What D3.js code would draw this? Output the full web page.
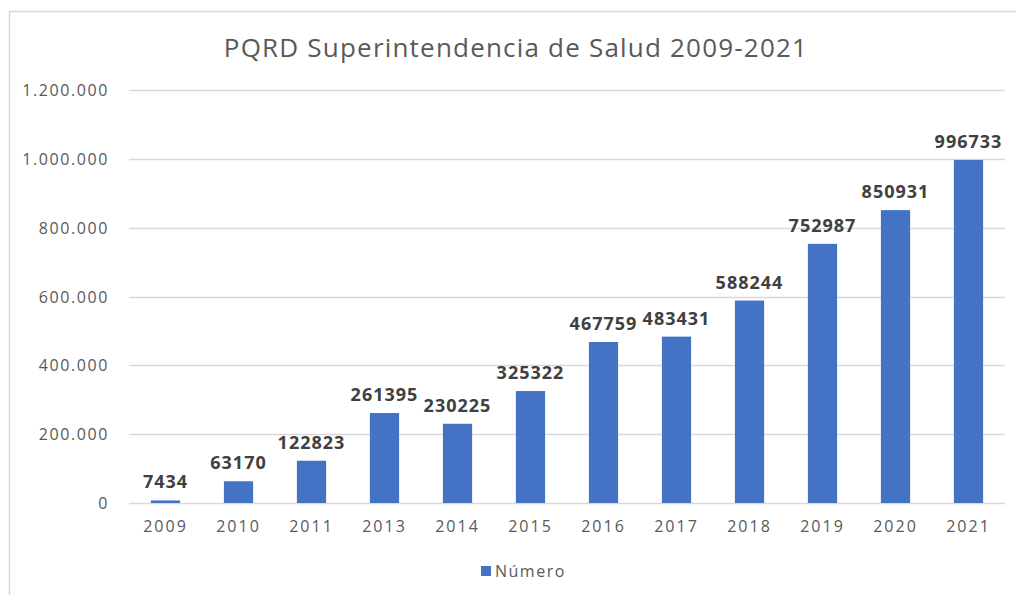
<!DOCTYPE html>
<html>
<head>
<meta charset="utf-8">
<script src="https://cdn.jsdelivr.net/npm/d3@7"></script>
<style>
	body { margin: 0; background: #fff; }
	text { font-family: "Open Sans", "Noto Sans", sans-serif; }
</style>
</head>
<body>
<script>
/* PQRD bar chart, Excel look */
var years = ["2009", "2010", "2011", "2013", "2014", "2015", "2016", "2017", "2018", "2019", "2020", "2021"];
var numero = [7434, 63170, 122823, 261395, 230225, 325322, 467759, 483431, 588244, 752987, 850931, 996733];
var yTicks = [0, 200000, 400000, 600000, 800000, 1000000, 1200000];
var title = "PQRD Superintendencia de Salud 2009-2021";
var seriesName = "Número";

var W = 1016, H = 595;
var margin = {left: 129, right: 11, top: 90, bottom: 92};
var blue = "#4472C4", grey = "#595959";

var svg = d3.select('body').append('svg').attr('width', W).attr('height', H);

// chart frame
svg.append('rect')
	.attr('x', 9.5).attr('y', 11.5)
	.attr('width', W + 10).attr('height', H + 10)
	.style('fill', 'none').style('stroke', '#d9d9d9').style('stroke-width', 1.5);

var x = d3.scaleBand().domain(years).range([margin.left, W - margin.right]).paddingInner(0.6).paddingOuter(0.3);
var y = d3.scaleLinear().domain([0, 1200000]).range([H - margin.bottom, margin.top]);

var fmt = function(v){ return d3.format(",")(v).replace(/,/g, '.'); };

// gridlines
svg.append('g').selectAll('line')
	.data(yTicks)
	.enter().append('line')
	.attr('x1', margin.left).attr('x2', W - margin.right)
	.attr('y1', function(d){ return Math.round(y(d)) + 0.5; })
	.attr('y2', function(d){ return Math.round(y(d)) + 0.5; })
	.style('stroke', '#d9d9d9').style('stroke-width', 1.3);

// y axis labels
var yAxis = svg.append('g')
	.attr('transform', 'translate(' + (margin.left - 20) + ',0)')
	.call(d3.axisLeft(y).tickValues(yTicks).tickFormat(function(d){ return d === 0 ? "0" : fmt(d); }).tickSize(0).tickPadding(0));
yAxis.select('.domain').remove();
yAxis.selectAll('text').style('font-size', '16px').style('letter-spacing', '1.6px').style('fill', grey).attr('dy', '0.35em');

// x axis labels
var xAxis = svg.append('g')
	.attr('transform', 'translate(0,' + (H - margin.bottom) + ')')
	.call(d3.axisBottom(x).tickSize(0).tickPadding(18));
xAxis.select('.domain').remove();
xAxis.selectAll('text').style('font-size', '16px').style('letter-spacing', '2px').style('fill', grey);

// bars
svg.append('g').selectAll('rect')
	.data(numero)
	.enter().append('rect')
	.attr('x', function(d, i){ return x(years[i]); })
	.attr('width', x.bandwidth())
	.attr('y', function(d){ return y(d); })
	.attr('height', function(d){ return y(0) - y(d); })
	.style('fill', blue);

// value labels
svg.append('g').selectAll('text')
	.data(numero)
	.enter().append('text')
	.attr('x', function(d, i){ return x(years[i]) + x.bandwidth() / 2; })
	.attr('y', function(d){ return y(d) - 12; })
	.attr('text-anchor', 'middle')
	.style('font-size', '18px').style('letter-spacing', '1px').style('font-weight', 'bold').style('fill', '#404040')
	.text(function(d){ return d; });

// title
svg.append('text')
	.attr('x', 516).attr('y', 57)
	.attr('text-anchor', 'middle')
	.style('font-size', '26px').style('letter-spacing', '1.2px').style('fill', grey)
	.text(title);

// legend
var legend = svg.append('g').attr('transform', 'translate(481,566)');
legend.append('rect').attr('width', 10).attr('height', 10).style('fill', blue);
legend.append('text').attr('x', 14).attr('y', 11)
	.style('font-size', '16px').style('letter-spacing', '1.5px').style('fill', grey)
	.text(seriesName);
</script>
</body>
</html>
